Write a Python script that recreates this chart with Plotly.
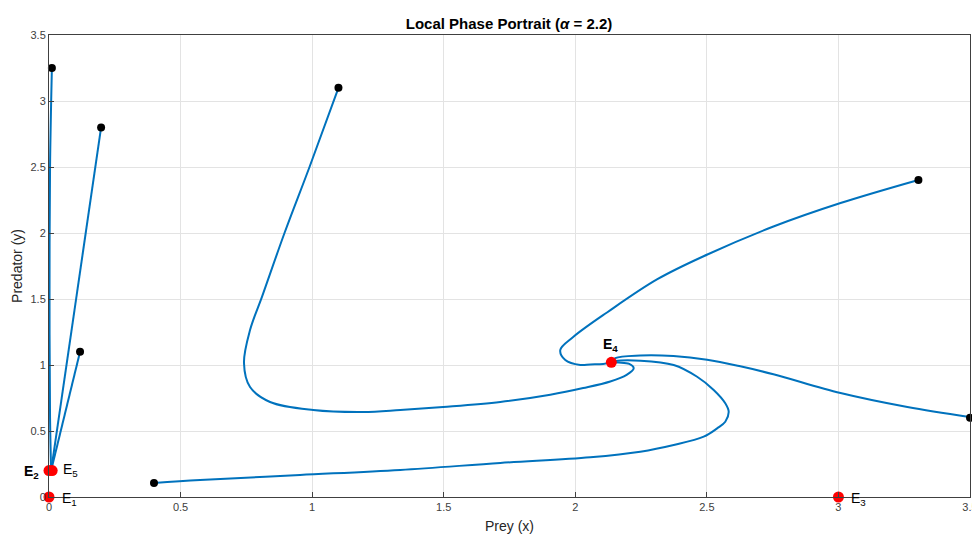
import plotly.graph_objects as go

# Trajectories
traj_a_x = [1.10, 0.99, 0.895, 0.81, 0.764, 0.741, 0.764, 0.840, 1.004, 1.194, 1.335, 1.498, 1.715, 1.905, 2.030, 2.133, 2.195, 2.222, 2.205, 2.165, 2.137]
traj_a_y = [3.10, 2.50, 2.00, 1.52, 1.265, 1.015, 0.833, 0.720, 0.659, 0.644, 0.659, 0.682, 0.720, 0.775, 0.825, 0.875, 0.925, 0.975, 1.008, 1.018, 1.02]

traj_b_x = [3.304, 3.008, 2.753, 2.502, 2.312, 2.122, 1.992, 1.943, 1.962, 2.019, 2.057, 2.106, 2.137]
traj_b_y = [2.402, 2.227, 2.049, 1.837, 1.650, 1.400, 1.212, 1.114, 1.038, 1.000, 1.004, 1.008, 1.02]

traj_c_x = [3.498, 3.262, 3.008, 2.753, 2.627, 2.501, 2.373, 2.247, 2.152, 2.137]
traj_c_y = [0.606, 0.682, 0.788, 0.930, 0.990, 1.040, 1.068, 1.072, 1.052, 1.02]

traj_d_x = [0.399, 0.574, 0.954, 1.335, 1.715, 2.057, 2.247, 2.374, 2.488, 2.539, 2.570, 2.583, 2.570, 2.526, 2.463, 2.374, 2.247, 2.152, 2.137]
traj_d_y = [0.106, 0.129, 0.167, 0.205, 0.258, 0.301, 0.343, 0.394, 0.457, 0.520, 0.570, 0.646, 0.710, 0.811, 0.911, 1.000, 1.033, 1.030, 1.02]

traj_e_x = [0.011, 0.004, 0.002, 0.004, 0.008]
traj_e_y = [3.25, 2.50, 1.50, 0.60, 0.20]

traj_f_x = [0.198, 0.008]
traj_f_y = [2.80, 0.20]

traj_g_x = [0.118, 0.008]
traj_g_y = [1.10, 0.20]

trajectories = [
    (traj_a_x, traj_a_y), (traj_b_x, traj_b_y), (traj_c_x, traj_c_y),
    (traj_d_x, traj_d_y), (traj_e_x, traj_e_y), (traj_f_x, traj_f_y),
    (traj_g_x, traj_g_y),
]

# Initial conditions (black dots)
start_x = [0.011, 0.198, 1.10, 3.304, 0.118, 3.50, 0.399]
start_y = [3.25, 2.80, 3.10, 2.402, 1.10, 0.60, 0.106]

# Equilibria (red dots)
eq_names = ["E1", "E2", "E3", "E4", "E5"]
eq_x = [0.0, 0.0, 3.0, 2.137, 0.012]
eq_y = [0.0, 0.2, 0.0, 1.02, 0.2]

tick_vals = [0, 0.5, 1, 1.5, 2, 2.5, 3, 3.5]
tick_text = ["0", "0.5", "1", "1.5", "2", "2.5", "3", "3.5"]

FONT = "Liberation Sans, Arial, sans-serif"
W, H = 972, 534

fig = go.Figure()

for tx, ty in trajectories:
    fig.add_trace(go.Scatter(
        x=tx, y=ty, mode="lines",
        line=dict(color="#0072BD", width=2, shape="spline", smoothing=1.0),
        showlegend=False, hoverinfo="skip",
    ))

fig.add_trace(go.Scatter(
    x=start_x, y=start_y, mode="markers",
    marker=dict(color="black", size=8),
    showlegend=False, cliponaxis=False,
))

fig.add_trace(go.Scatter(
    x=eq_x, y=eq_y, mode="markers",
    marker=dict(color="#FF0000", size=11),
    showlegend=False, cliponaxis=False,
))

lab_font = dict(family=FONT, size=14, color="black")
ann = [
    dict(x=eq_x[0], y=eq_y[0], text="E<sub>1</sub>", xanchor="left", yanchor="middle", xshift=11, yshift=-2),
    dict(x=eq_x[1], y=eq_y[1], text="<b>E<sub>2</sub></b>", xanchor="right", yanchor="middle", xshift=-8, yshift=-1),
    dict(x=eq_x[2], y=eq_y[2], text="E<sub>3</sub>", xanchor="left", yanchor="middle", xshift=11, yshift=-2),
    dict(x=eq_x[3], y=eq_y[3], text="<b>E<sub>4</sub></b>", xanchor="center", yanchor="bottom", xshift=-1, yshift=6),
    dict(x=eq_x[4], y=eq_y[4], text="E<sub>5</sub>", xanchor="left", yanchor="middle", xshift=9, yshift=1),
]
for a in ann:
    a.update(xref="x", yref="y", showarrow=False, font=lab_font)

axis_common = dict(
    range=[0, 3.5], tickvals=tick_vals, ticktext=tick_text,
    showgrid=True, gridcolor="#e3e3e3", gridwidth=1,
    showline=True, mirror=True, linecolor="#404040", linewidth=1,
    ticks="inside", ticklen=5, tickcolor="#404040",
    tickfont=dict(family=FONT, size=11, color="#404040"),
    ticklabeloverflow="allow",
    zeroline=False, fixedrange=True, automargin=False,
)

fig.update_layout(
    width=W, height=H,
    margin=dict(l=49, r=2, t=35, b=37, autoexpand=False),
    paper_bgcolor="white", plot_bgcolor="white",
    title=dict(
        text="<b>Local Phase Portrait (<i>α</i> = 2.2)</b>",
        x=509 / W, xanchor="center", y=1 - 24 / H, yanchor="middle",
        font=dict(family=FONT, size=15, color="black"),
    ),
    xaxis=dict(axis_common, title=dict(text="Prey (x)", standoff=9,
               font=dict(family=FONT, size=14, color="#262626"))),
    yaxis=dict(axis_common, title=dict(text="Predator (y)", standoff=4,
               font=dict(family=FONT, size=14, color="#262626"))),
    annotations=ann,
)

fig.write_html(
    "out.html",
    config={"displayModeBar": False},
    post_script="document.body.style.margin='0';document.body.style.overflow='hidden';",
)
